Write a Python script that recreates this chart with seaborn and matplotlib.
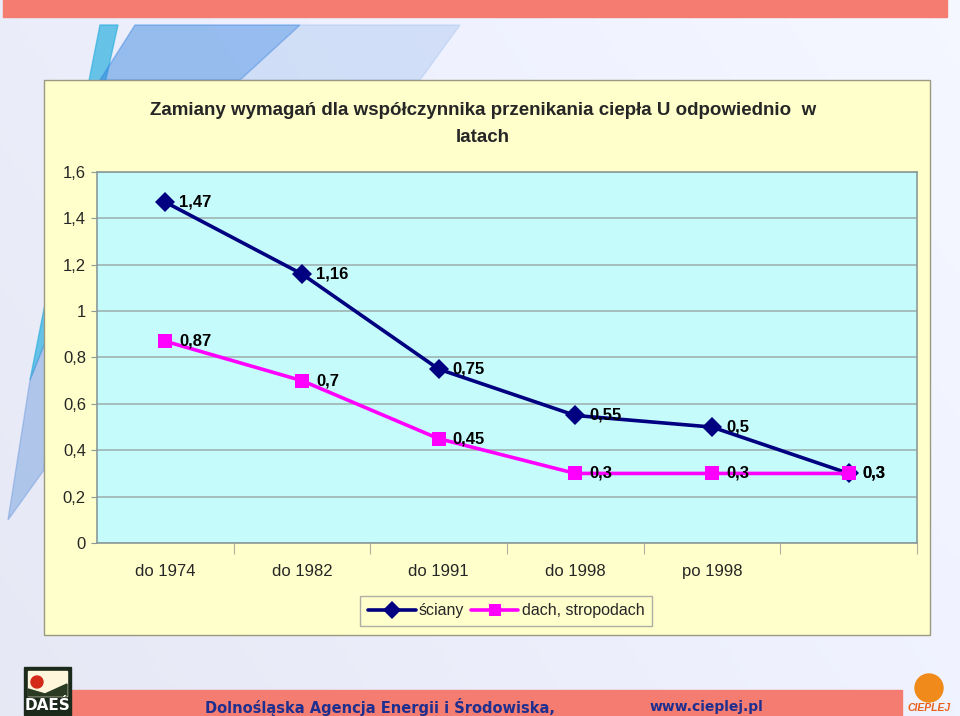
import numpy as np
import pandas as pd
import seaborn as sns
import matplotlib.pyplot as plt
from matplotlib.patches import Rectangle, Circle, Polygon
from matplotlib.lines import Line2D

categories = ["do 1974", "do 1982", "do 1991", "do 1998", "po 1998", ""]
sciany = [1.47, 1.16, 0.75, 0.55, 0.5, 0.3]
dach = [0.87, 0.7, 0.45, 0.3, 0.3, 0.3]
series_names = ["ściany", "dach, stropodach"]
y_ticks = [0, 0.2, 0.4, 0.6, 0.8, 1.0, 1.2, 1.4, 1.6]
y_labels = ["0", "0,2", "0,4", "0,6", "0,8", "1", "1,2", "1,4", "1,6"]
title = "Zamiany wymagań dla współczynnika przenikania ciepła U odpowiednio  w\nlatach"

navy = "#000080"
magenta = "#FF00FF"

sns.set_style("white")
plt.rcParams["font.family"] = ["Liberation Sans", "DejaVu Sans"]

df = pd.DataFrame({
    "x": list(range(len(categories))) * 2,
    "value": sciany + dach,
    "series": [series_names[0]] * len(sciany) + [series_names[1]] * len(dach),
})

W, H = 960, 716
fig = plt.figure(figsize=(9.6, 7.16), dpi=100)
fig.patch.set_facecolor("white")

# background decoration
bg = fig.add_axes([0, 0, 1, 1], zorder=-10)
bg.set_xlim(0, W)
bg.set_ylim(H, 0)
bg.axis("off")
gx = np.linspace(0, 1, 200)
gy = np.linspace(0, 1, 150)
GX, GY = np.meshgrid(gx, gy)
grad = 0.95 + 0.04 * GX - 0.02 * GY
bg.imshow(np.dstack([grad * 0.97, grad * 0.98, np.clip(grad + 0.03, 0, 1)]),
          extent=(0, W, H, 0), aspect="auto", zorder=0)
bg.add_patch(Polygon([[100, 25], [118, 25], [50, 330], [30, 380]], closed=True,
                     color="#2fb0e0", alpha=0.7, zorder=1))
bg.add_patch(Polygon([[135, 25], [300, 25], [240, 80], [100, 80]], closed=True,
                     color="#2f7fe0", alpha=0.45, zorder=1))
bg.add_patch(Polygon([[300, 25], [460, 25], [420, 80], [240, 80]], closed=True,
                     color="#8fb5ea", alpha=0.3, zorder=1))
bg.add_patch(Polygon([[30, 380], [50, 330], [44, 470], [8, 520]], closed=True,
                     color="#6a98dc", alpha=0.45, zorder=1))
bg.add_patch(Rectangle((3, 0), W - 16, 17, color="#F47C70", zorder=2))
bg.add_patch(Rectangle((72, 690), 830, 26, color="#F47C70", zorder=2))
bg.text(205, 707, "Dolnośląska Agencja Energii i Środowiska,", color="#1f2f8f",
        fontsize=10.5, fontweight="bold", family="DejaVu Sans", va="center", zorder=3)
bg.text(650, 707, "www.cieplej.pl", color="#1f2f8f", fontsize=10,
        fontweight="bold", family="DejaVu Sans", va="center", zorder=3)
# DAES logo
bg.add_patch(Rectangle((24, 667), 47, 48, color="#1c2a1c", zorder=3))
bg.add_patch(Rectangle((28, 671), 39, 25, color="#fff6dc", zorder=4))
bg.add_patch(Circle((37, 682), 6, color="#d42a1a", zorder=5))
bg.add_patch(Polygon([[28, 696], [28, 689], [45, 694], [67, 684], [67, 696]],
                     closed=True, color="#2b3a22", zorder=5))
bg.text(47.5, 705, "DAEŚ", color="white", fontsize=11, fontweight="bold",
        family="Liberation Sans Narrow", ha="center", va="center", zorder=6)
# CIEPLEJ logo
bg.add_patch(Circle((929, 688), 14, color="#f08a1a", zorder=3))
bg.text(929, 708, "CIEPLEJ", color="#e8601a", fontsize=7.5, fontweight="bold",
        style="italic", ha="center", va="center", zorder=4)

# chart panel
fig.patches.append(Rectangle((44 / W, 1 - 635 / H), 886 / W, 555 / H,
                             transform=fig.transFigure, facecolor="#FFFFCC",
                             edgecolor="#9a9a80", linewidth=1.0, zorder=-5))

ax = fig.add_axes([97 / W, 1 - 543 / H, 820 / W, 371 / H], zorder=2)
ax.set_facecolor("#C6FBFB")

sns.lineplot(data=df, x="x", y="value", hue="series", style="series",
             palette=[navy, magenta], markers=["D", "s"], dashes=False,
             markersize=10, linewidth=2.6, markeredgewidth=0, sort=False,
             ax=ax, legend=False)

for vals, col in [(sciany, navy), (dach, magenta)]:
    for i, v in enumerate(vals):
        ax.annotate(f"{v:g}".replace(".", ","), (i, v), xytext=(10, 0),
                    textcoords="offset points", va="center", ha="left",
                    fontsize=12, fontweight="bold", color="black", zorder=5)

ax.set_xlim(-0.5, len(categories) - 0.5)
ax.set_ylim(0, 1.6)
ax.set_yticks(y_ticks)
ax.set_yticklabels(y_labels, fontsize=12)
ax.yaxis.grid(True, color="#9fb3b3", linewidth=1.2)
ax.set_axisbelow(True)
ax.tick_params(axis="y", length=4, pad=4, color="#8a9a9a", left=True)

ax.set_xticks(np.arange(len(categories)) + 0.5)
ax.set_xticklabels([])
ax.tick_params(axis="x", which="major", length=8, color="#b0b0a0", bottom=True)
ax.set_xticks(np.arange(len(categories)), minor=True)
ax.set_xticklabels(categories, minor=True, fontsize=12)
ax.tick_params(axis="x", which="minor", length=0, pad=15)
ax.set_xlabel("")
ax.set_ylabel("")
for s in ax.spines.values():
    s.set_color("#8a9a9a")
    s.set_linewidth(1.2)

fig.text(483 / W, 1 - 124 / H, title, ha="center", va="center", fontsize=13.5,
         fontweight="bold", linespacing=1.75, zorder=3,
         family=["Liberation Sans Narrow", "Liberation Sans", "DejaVu Sans"])

handles = [Line2D([], [], color=navy, marker="D", markersize=9, linewidth=2.6,
                  markeredgewidth=0),
           Line2D([], [], color=magenta, marker="s", markersize=9, linewidth=2.6,
                  markeredgewidth=0)]
leg = fig.legend(handles, series_names, loc="center", ncol=2,
                 bbox_to_anchor=(506 / W, 1 - 611 / H), fontsize=11.5,
                 frameon=True, fancybox=False, handlelength=3.0,
                 handletextpad=0.2, columnspacing=0.4, borderpad=0.5)
leg.get_frame().set_facecolor("#FFFFCC")
leg.get_frame().set_edgecolor("#9a9a9a")

fig.savefig("out.png", dpi=100)
